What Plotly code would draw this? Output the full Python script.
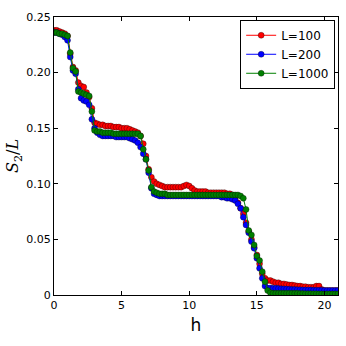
import plotly.graph_objects as go

# h grid (step 0.2 from 0 to 21)
h = [
    0.0, 0.2, 0.4, 0.6, 0.8, 1.0, 1.2, 1.4, 1.6, 1.8,
    2.0, 2.2, 2.4, 2.6, 2.8, 3.0, 3.2, 3.4, 3.6, 3.8,
    4.0, 4.2, 4.4, 4.6, 4.8, 5.0, 5.2, 5.4, 5.6, 5.8,
    6.0, 6.2, 6.4, 6.6, 6.8, 7.0, 7.2, 7.4, 7.6, 7.8,
    8.0, 8.2, 8.4, 8.6, 8.8, 9.0, 9.2, 9.4, 9.6, 9.8,
    10.0, 10.2, 10.4, 10.6, 10.8, 11.0, 11.2, 11.4, 11.6, 11.8,
    12.0, 12.2, 12.4, 12.6, 12.8, 13.0, 13.2, 13.4, 13.6, 13.8,
    14.0, 14.2, 14.4, 14.6, 14.8, 15.0, 15.2, 15.4, 15.6, 15.8,
    16.0, 16.2, 16.4, 16.6, 16.8, 17.0, 17.2, 17.4, 17.6, 17.8,
    18.0, 18.2, 18.4, 18.6, 18.8, 19.0, 19.2, 19.4, 19.6, 19.8,
    20.0, 20.2, 20.4, 20.6, 20.8, 21.0,
]

s_L100 = [
    0.238, 0.238, 0.237, 0.236, 0.235, 0.233, 0.217, 0.205, 0.202, 0.191,
    0.188, 0.187, 0.182, 0.178, 0.168, 0.155, 0.154, 0.153, 0.153, 0.152,
    0.152, 0.152, 0.151, 0.151, 0.151, 0.150, 0.150, 0.150, 0.149, 0.148,
    0.147, 0.146, 0.143, 0.136, 0.125, 0.113, 0.106, 0.102, 0.100, 0.099,
    0.098, 0.097, 0.097, 0.097, 0.097, 0.097, 0.097, 0.097, 0.098, 0.099,
    0.098, 0.096, 0.094, 0.093, 0.093, 0.093, 0.093, 0.092, 0.092, 0.092,
    0.092, 0.092, 0.092, 0.092, 0.091, 0.091, 0.090, 0.088, 0.083, 0.078,
    0.073, 0.065, 0.057, 0.050, 0.043, 0.036, 0.028, 0.019, 0.015, 0.013,
    0.013, 0.012, 0.011, 0.011, 0.010, 0.010, 0.0095, 0.009, 0.009, 0.0085,
    0.008, 0.008, 0.0075, 0.0075, 0.007, 0.007, 0.007, 0.008, 0.008, 0.005,
    0.004, 0.004, 0.004, 0.004, 0.004, 0.004,
]

s_L200 = [
    0.236, 0.236, 0.235, 0.234, 0.232, 0.229, 0.214, 0.202, 0.199, 0.185,
    0.177, 0.175, 0.174, 0.171, 0.158, 0.150, 0.146, 0.144, 0.143, 0.143,
    0.143, 0.143, 0.143, 0.142, 0.142, 0.142, 0.142, 0.142, 0.141, 0.140,
    0.139, 0.137, 0.133, 0.127, 0.122, 0.110, 0.096, 0.091, 0.090, 0.089,
    0.089, 0.089, 0.089, 0.089, 0.089, 0.089, 0.089, 0.089, 0.089, 0.089,
    0.089, 0.089, 0.089, 0.089, 0.089, 0.089, 0.089, 0.089, 0.089, 0.089,
    0.089, 0.089, 0.088, 0.088, 0.087, 0.087, 0.086, 0.085, 0.082, 0.078,
    0.070, 0.063, 0.056, 0.048, 0.042, 0.033, 0.024, 0.015, 0.008, 0.006,
    0.0063, 0.006, 0.006, 0.0058, 0.0056, 0.0055, 0.0053, 0.0052, 0.005, 0.005,
    0.0048, 0.0047, 0.0046, 0.0045, 0.0045, 0.0044, 0.0043, 0.0043, 0.0042, 0.0042,
    0.0041, 0.004, 0.004, 0.004, 0.004, 0.004,
]

s_L1000 = [
    0.236, 0.236, 0.235, 0.235, 0.234, 0.233, 0.218, 0.204, 0.201, 0.183,
    0.182, 0.181, 0.180, 0.179, 0.165, 0.148, 0.147, 0.147, 0.146, 0.146,
    0.146, 0.146, 0.145, 0.145, 0.145, 0.145, 0.145, 0.145, 0.145, 0.145,
    0.145, 0.145, 0.143, 0.131, 0.122, 0.112, 0.097, 0.093, 0.092, 0.091,
    0.091, 0.091, 0.090, 0.090, 0.090, 0.090, 0.090, 0.090, 0.090, 0.090,
    0.090, 0.090, 0.090, 0.090, 0.090, 0.090, 0.090, 0.090, 0.090, 0.090,
    0.090, 0.090, 0.090, 0.090, 0.090, 0.090, 0.090, 0.090, 0.090, 0.089,
    0.087, 0.077, 0.058, 0.054, 0.045, 0.035, 0.031, 0.021, 0.012, 0.004,
    0.002, 0.0015, 0.0015, 0.0015, 0.0015, 0.0015, 0.0015, 0.0015, 0.0015, 0.0015,
    0.0015, 0.0013, 0.0013, 0.0012, 0.0012, 0.0012, 0.0011, 0.0011, 0.001, 0.001,
    0.001, 0.001, 0.001, 0.001, 0.001, 0.001,
]

series = [
    ("L=100", s_L100, "#ff0000"),
    ("L=200", s_L200, "#0000ff"),
    ("L=1000", s_L1000, "#008000"),
]

y_ticks = [0, 0.05, 0.10, 0.15, 0.20, 0.25]
y_ticktext = ["0", "0.05", "0.10", "0.15", "0.20", "0.25"]
x_ticks = [0, 5, 10, 15, 20]

fig = go.Figure()

for name, vals, color in series:
    fig.add_trace(
        go.Scatter(
            x=h,
            y=vals,
            mode="lines+markers",
            name=name,
            line=dict(color=color, width=1),
            marker=dict(
                size=6,
                color=color,
                line=dict(color="rgba(0,0,0,0.55)", width=0.6),
            ),
        )
    )

axis_common = dict(
    showgrid=False,
    zeroline=False,
    showline=True,
    linecolor="black",
    linewidth=1,
    mirror="ticks",
    ticks="inside",
    ticklen=4,
    tickcolor="black",
    automargin=False,
    tickfont=dict(family="DejaVu Sans", size=11, color="black"),
)

fig.update_xaxes(
    range=[0, 21],
    tickvals=x_ticks,
    title=dict(text="h", font=dict(family="DejaVu Sans", size=17, color="black"), standoff=7),
    **axis_common,
)
fig.update_yaxes(
    range=[0, 0.25],
    tickvals=y_ticks,
    ticktext=y_ticktext,
    title=dict(
        text="<i>S</i><sub>2</sub>/<i>L</i>",
        font=dict(family="DejaVu Serif", size=16, color="black"),
        standoff=3,
    ),
    **axis_common,
)

fig.update_layout(
    width=346,
    height=346,
    template="simple_white",
    paper_bgcolor="white",
    plot_bgcolor="white",
    margin=dict(l=54, r=8, t=17, b=51, autoexpand=False),
    font=dict(family="DejaVu Sans", color="black"),
    legend=dict(
        x=0.99,
        y=0.99,
        xanchor="right",
        yanchor="top",
        bgcolor="white",
        bordercolor="black",
        borderwidth=1,
        font=dict(family="DejaVu Sans", size=12, color="black"),
        itemwidth=30,
        tracegroupgap=0,
    ),
)

# page body has a default 8px margin; drop it so the 346px figure fills the window
fig.write_html(
    "out.html",
    config={"displayModeBar": False},
    post_script="document.body.style.margin='0';",
)
